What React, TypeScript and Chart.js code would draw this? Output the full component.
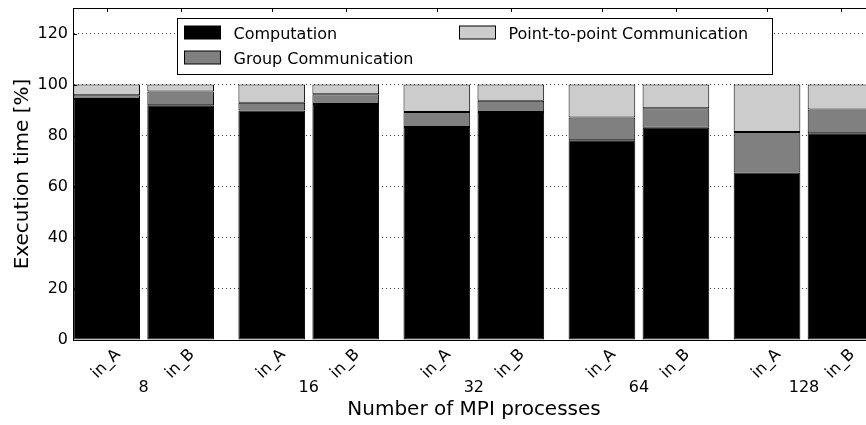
import React, { useEffect, useRef } from "react";
import { Chart, registerables } from "chart.js";

Chart.register(...registerables);

// Groups on the x axis (number of MPI processes) and the two inputs per group
const processCounts = ["8", "16", "32", "64", "128"];
const inputLabels = ["in_A", "in_B"];

// Share of execution time [%] for input in_A
const computationA = [94.4, 89.9, 83.4, 78.2, 65.6];
const groupCommA = [1.4, 3.0, 5.9, 8.9, 15.8];
const p2pCommA = [4.2, 7.1, 10.7, 12.9, 18.6];

// Share of execution time [%] for input in_B
const computationB = [91.9, 92.4, 89.3, 83.1, 81.0];
const groupCommB = [5.4, 3.8, 4.4, 7.6, 9.3];
const p2pCommB = [2.7, 3.8, 6.3, 9.3, 9.7];

const seriesNames = ["Computation", "Group Communication", "Point-to-point Communication"];
const seriesColors = ["#000000", "#808080", "#cccccc"];

const yTicks = [0, 20, 40, 60, 80, 100, 120];

const FONT = '"DejaVu Sans", "Liberation Sans", sans-serif';

function buildDatasets() {
  const perInput = [
    [computationA, groupCommA, p2pCommA],
    [computationB, groupCommB, p2pCommB],
  ];
  const datasets: any[] = [];
  perInput.forEach((series, s) => {
    series.forEach((values, k) => {
      datasets.push({
        label: seriesNames[k],
        stack: inputLabels[s],
        data: values.map((v, i) => ({ x: i, y: v })),
        backgroundColor: seriesColors[k],
        borderColor: "#000000",
        borderWidth: 1,
        borderSkipped: false,
        categoryPercentage: 0.8964,
        barPercentage: 0.901,
      });
    });
  });
  return datasets;
}

// Frame, inward tick marks, rotated input labels and the two-column legend
const decorations = {
  id: "decorations",
  afterDatasetsDraw(chart: any) {
    const { ctx, chartArea: ca, scales } = chart;
    ctx.save();
    ctx.strokeStyle = "#000";
    ctx.lineWidth = 1;

    // top spine
    ctx.beginPath();
    ctx.moveTo(ca.left, Math.round(ca.top) + 0.5);
    ctx.lineTo(ca.right, Math.round(ca.top) + 0.5);
    ctx.stroke();

    // inward ticks on the top spine at every bar centre
    inputLabels.forEach((_, s) => {
      const meta = chart.getDatasetMeta(s * seriesNames.length);
      meta.data.forEach((el: any) => {
        const x = Math.round(el.x) + 0.5;
        ctx.beginPath();
        ctx.moveTo(x, ca.top);
        ctx.lineTo(x, ca.top + 4);
        ctx.stroke();
      });
    });

    // inward ticks on the left spine
    yTicks.forEach((v) => {
      const y = Math.round(scales.y.getPixelForValue(v)) + 0.5;
      ctx.beginPath();
      ctx.moveTo(ca.left, y);
      ctx.lineTo(ca.left + 4, y);
      ctx.stroke();
    });

    // rotated input labels under each bar
    ctx.fillStyle = "#000";
    ctx.font = `16px ${FONT}`;
    ctx.textAlign = "center";
    ctx.textBaseline = "middle";
    inputLabels.forEach((label, s) => {
      const meta = chart.getDatasetMeta(s * seriesNames.length);
      meta.data.forEach((el: any) => {
        ctx.save();
        ctx.translate(el.x - 0.5, ca.bottom + 24);
        ctx.rotate(-Math.PI / 4);
        ctx.fillText(label, 0, 0);
        ctx.restore();
      });
    });

    // legend
    const boxX = Math.round(ca.left + 103.5) + 0.5;
    const boxY = Math.round(ca.top + 9.5) + 0.5;
    const boxW = 595;
    const boxH = 56;
    ctx.fillStyle = "#fff";
    ctx.fillRect(boxX, boxY, boxW, boxH);
    ctx.strokeRect(boxX, boxY, boxW, boxH);
    ctx.textAlign = "left";
    ctx.textBaseline = "alphabetic";
    seriesNames.forEach((name, k) => {
      const col = Math.floor(k / 2);
      const row = k % 2;
      const sx = boxX + 7 + col * 275;
      const cy = boxY + 14 + row * 25;
      ctx.fillStyle = seriesColors[k];
      ctx.fillRect(sx, cy - 6.5, 36, 13);
      ctx.strokeRect(sx, cy - 6.5, 36, 13);
      ctx.fillStyle = "#000";
      ctx.fillText(name, sx + 49, cy + 6.5);
    });

    ctx.restore();
  },
};

export default function App() {
  const canvasRef = useRef<HTMLCanvasElement | null>(null);

  useEffect(() => {
    if (!canvasRef.current) return;
    Chart.defaults.font.family = FONT;
    Chart.defaults.color = "#000";

    const chart = new Chart(canvasRef.current, {
      type: "bar",
      data: { datasets: buildDatasets() },
      plugins: [decorations],
      options: {
        responsive: false,
        animation: false,
        events: [],
        layout: { padding: { top: 8, left: 0, right: 0, bottom: 0 } },
        plugins: {
          legend: { display: false },
          tooltip: { enabled: false },
        },
        scales: {
          x: {
            type: "linear",
            stacked: true,
            offset: false,
            min: -0.428,
            max: 4.43,
            grid: { display: false, drawTicks: false, offset: false },
            border: { display: true, color: "#000", width: 1 },
            afterBuildTicks: (scale: any) => {
              scale.ticks = processCounts.map((_, i) => ({ value: i }));
            },
            afterFit: (scale: any) => {
              scale.height = 85;
              scale.paddingLeft = 0;
              scale.paddingRight = 0;
            },
            ticks: {
              autoSkip: false,
              maxRotation: 0,
              minRotation: 0,
              padding: 38.4,
              color: "#000",
              font: { size: 16, family: FONT },
              callback: (value: any) => processCounts[value] ?? "",
            },
            title: {
              display: true,
              text: "Number of MPI processes",
              color: "#000",
              font: { size: 20, family: FONT },
              padding: { top: 0, bottom: 3 },
            },
          },
          y: {
            stacked: true,
            min: 0,
            max: 130,
            afterBuildTicks: (scale: any) => {
              scale.ticks = yTicks.map((v) => ({ value: v }));
            },
            afterFit: (scale: any) => {
              scale.width = 73;
              scale.paddingTop = 0;
              scale.paddingBottom = 0;
            },
            grid: {
              color: "rgba(0,0,0,0.75)",
              lineWidth: 1,
              drawTicks: false,
            },
            border: { display: true, color: "#000", width: 1, dash: [1, 3] },
            ticks: {
              padding: 5,
              color: "#000",
              font: { size: 16, family: FONT },
            },
            title: {
              display: true,
              text: "Execution time [%]",
              color: "#000",
              font: { size: 20, family: FONT },
              padding: { top: 11, bottom: 0 },
            },
          },
        },
      } as any,
    });

    return () => chart.destroy();
  }, []);

  // The plot runs a little past the right edge of the view and is cut off there
  return (
    <div style={{ position: "absolute", left: 0, top: 0, width: 866, height: 425, overflow: "hidden" }}>
      <canvas ref={canvasRef} width={875} height={425} style={{ display: "block" }} />
    </div>
  );
}
